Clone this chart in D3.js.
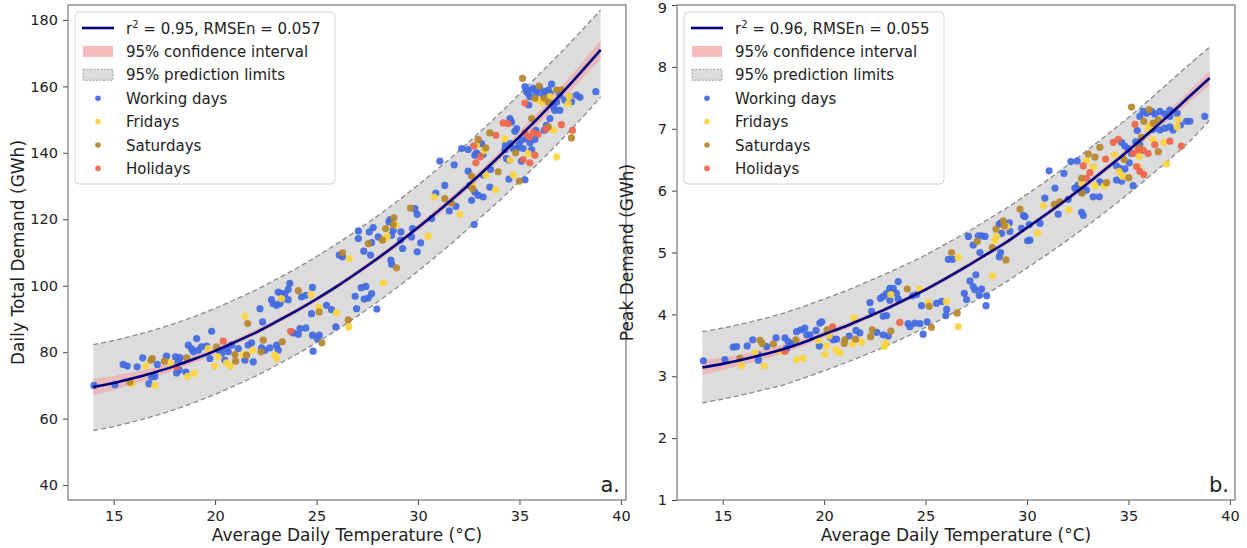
<!DOCTYPE html>
<html>
<head>
<meta charset="utf-8">
<script src="https://cdn.jsdelivr.net/npm/d3@7"></script>
<style>
  body { margin: 0; background: #fff; }
  svg text { font-family: "DejaVu Sans", sans-serif; fill: #222; }
</style>
</head>
<body>
<svg id="chart" width="1247" height="548"></svg>
<script>
// temperatures where the fitted curve and bands were read
var temps = [14,15,16,17,18,19,20,21,22,23,24,25,26,27,28,29,30,31,32,33,34,35,36,37,38,39];

// panel a: daily total demand
var totalFit = [69.5,70.7,72.2,73.9,75.8,78.0,80.4,83.1,85.9,89.1,92.4,96.0,99.8,103.9,108.2,112.7,117.5,122.5,127.7,133.2,138.9,144.9,151.0,157.4,164.1,171.0];
var totalPredUp = [82.3,83.5,85.0,86.7,88.6,90.8,93.2,95.9,98.7,101.9,105.2,108.8,112.6,116.7,121.0,125.5,130.3,135.3,140.5,146.0,151.7,157.7,163.8,170.0,176.4,183.0];
var totalPredLo = [56.4,57.6,59.1,60.8,62.7,64.9,67.3,70.0,72.8,76.0,79.3,82.9,86.7,90.8,95.1,99.6,104.4,109.4,114.6,120.1,125.6,131.4,137.3,143.5,150.0,156.8];
var totalCiUp = [72.0,72.8,74.0,75.4,77.1,79.1,81.4,84.0,86.8,89.9,93.2,96.8,100.6,104.7,109.1,113.7,118.5,123.6,128.9,134.5,140.3,146.5,152.8,159.5,166.5,173.8];
var totalCiLo = [67.0,68.6,70.4,72.4,74.5,76.9,79.4,82.2,85.0,88.3,91.6,95.2,99.0,103.1,107.3,111.7,116.5,121.4,126.5,131.9,137.5,143.3,149.2,155.3,161.7,168.2];

var totalWork = [[14.03,70.0],[15.06,70.2],[15.47,76.3],[15.67,75.8],[16.16,75.6],[16.43,78.3],[17.15,76.3],[16.87,72.5],[17.03,72.7],[16.74,70.5],[17.6,78.8],[18.05,78.6],[18.18,77.1],[18.27,78.4],[18.1,73.7],[18.23,74.6],[18.56,74.0],[18.68,82.1],[18.84,81.1],[19.09,84.1],[18.92,80.1],[19.17,80.6],[19.33,81.6],[19.58,81.8],[19.83,86.3],[19.74,78.1],[20.2,80.6],[20.32,79.6],[20.56,81.1],[20.65,80.1],[20.81,82.1],[20.48,77.6],[21.14,81.1],[21.47,77.6],[21.63,82.1],[21.8,82.8],[21.88,77.1],[22.29,81.3],[22.45,80.6],[22.7,81.3],[23.03,82.1],[23.11,80.6],[22.21,93.1],[22.34,89.1],[22.78,95.8],[22.86,94.6],[23.03,94.1],[23.19,94.6],[23.27,95.6],[23.11,98.1],[23.27,97.6],[23.44,97.6],[23.6,95.8],[23.68,100.7],[23.6,98.9],[24.26,96.6],[24.47,97.1],[24.8,99.5],[23.85,85.8],[24.1,85.4],[24.18,87.1],[24.47,87.3],[24.8,85.1],[25.03,84.1],[25.13,85.1],[24.83,80.3],[24.75,91.6],[25.49,94.1],[25.74,92.8],[25.95,87.6],[26.9,96.8],[27.2,99.4],[27.43,99.8],[27.35,96.0],[27.55,96.3],[27.71,97.6],[27.97,93.0],[26.97,93.1],[28.66,107.7],[28.7,106.5],[29.24,111.2],[29.96,110.2],[30.13,112.9],[30.67,120.2],[29.96,121.5],[29.85,123.2],[29.73,117.2],[29.68,114.7],[29.16,116.2],[29.14,113.7],[28.78,116.7],[28.7,115.2],[28.57,119.2],[28.62,119.9],[28.04,114.7],[27.79,117.5],[27.6,116.2],[27.71,113.0],[27.33,110.4],[27.66,109.2],[27.06,116.5],[27.06,114.2],[26.12,109.2],[26.28,108.7],[30.88,127.9],[31.32,130.2],[31.87,123.9],[31.54,122.5],[31.08,137.5],[31.78,136.4],[32.15,141.3],[32.47,141.0],[32.47,134.5],[32.56,130.2],[32.8,128.2],[32.97,127.2],[33.21,126.7],[32.64,125.7],[32.77,118.4],[33.21,133.3],[33.57,135.0],[33.54,129.7],[32.8,139.3],[32.88,140.0],[33.13,142.8],[33.21,139.5],[34.31,142.3],[34.28,141.0],[34.53,142.8],[34.49,137.8],[34.69,141.3],[34.36,138.3],[34.86,141.3],[34.99,142.5],[35.1,143.8],[35.18,141.3],[35.51,143.0],[35.35,144.3],[34.77,146.5],[34.86,147.3],[34.61,149.3],[34.53,150.3],[35.1,137.5],[35.27,131.9],[34.48,132.1],[35.6,141.0],[35.76,144.0],[35.81,146.8],[36.33,148.3],[36.5,150.3],[36.22,146.8],[36.63,154.8],[36.83,155.3],[36.99,157.4],[37.24,155.9],[36.99,152.8],[37.48,156.9],[37.81,157.4],[37.98,156.7],[37.56,155.4],[38.76,158.4],[36.58,160.7],[35.27,159.9],[35.35,158.4],[35.51,158.9],[35.68,159.4],[35.84,158.9],[36.0,159.4],[36.25,158.4],[36.42,158.9],[35.51,156.9],[35.46,154.4],[35.43,157.9],[35.84,157.9],[36.17,157.4],[36.5,157.9],[36.74,152.8],[36.69,153.8]];
var totalFri = [[15.89,70.5],[16.58,75.8],[17.03,70.0],[17.77,76.8],[18.64,72.7],[18.97,73.6],[19.66,81.1],[19.99,75.8],[20.15,78.6],[20.56,76.8],[20.76,75.8],[21.39,79.3],[21.85,80.6],[22.95,79.1],[23.03,78.1],[21.47,90.8],[23.27,96.1],[24.72,97.3],[25.11,93.6],[25.98,91.9],[26.58,87.6],[26.61,108.2],[28.29,100.8],[28.91,118.2],[28.48,114.9],[28.37,114.2],[30.5,114.9],[30.8,126.7],[32.06,121.5],[32.67,130.2],[33.34,133.3],[33.82,128.9],[32.88,142.3],[33.25,140.6],[34.28,144.2],[34.54,137.8],[34.69,133.3],[35.43,139.8],[36.69,146.8],[36.83,138.8],[37.4,154.8],[37.45,156.9],[35.92,155.9],[36.08,155.3],[36.5,156.9]];
var totalSat = [[15.8,71.0],[16.84,77.6],[16.9,78.1],[17.5,77.3],[18.6,78.3],[20.07,81.6],[20.98,79.3],[21.01,77.3],[21.55,79.1],[22.26,80.1],[22.37,83.6],[23.31,83.1],[21.6,88.6],[24.1,98.5],[25.13,92.1],[25.26,82.8],[26.56,89.7],[26.28,109.9],[28.94,105.4],[29.63,123.4],[28.81,120.4],[28.78,118.4],[28.4,117.2],[28.25,113.7],[27.55,112.7],[31.32,126.2],[31.65,124.9],[32.64,133.0],[32.69,129.2],[33.95,134.3],[32.97,144.0],[33.34,141.5],[33.54,146.0],[34.81,140.0],[34.99,131.5],[35.6,150.3],[36.42,147.8],[37.56,144.5],[37.07,158.9],[36.83,158.9],[35.15,162.4],[35.97,160.1],[35.76,156.4],[36.22,156.4],[36.42,155.3]];
var totalHol = [[18.1,75.6],[20.4,83.3],[23.72,86.3],[32.85,137.0],[33.08,138.8],[32.75,142.1],[33.84,145.3],[34.2,149.0],[34.44,148.8],[35.27,146.0],[35.48,144.8],[35.68,146.0],[35.92,145.6],[35.18,138.0],[35.51,137.0],[35.76,139.3],[36.3,147.1],[37.07,148.5],[37.61,146.8],[35.27,155.0]];

// panel b: peak demand
var peakFit = [3.14,3.20,3.27,3.35,3.44,3.55,3.68,3.80,3.94,4.08,4.24,4.40,4.58,4.77,4.97,5.17,5.40,5.63,5.87,6.12,6.38,6.65,6.93,7.22,7.52,7.82];
var peakPredUp = [3.72,3.78,3.85,3.93,4.02,4.13,4.25,4.37,4.51,4.65,4.80,4.96,5.14,5.32,5.52,5.72,5.94,6.17,6.41,6.66,6.92,7.18,7.46,7.75,8.04,8.32];
var peakPredLo = [2.57,2.63,2.70,2.78,2.86,2.97,3.09,3.21,3.34,3.48,3.63,3.79,3.96,4.14,4.33,4.53,4.75,4.97,5.20,5.44,5.69,5.95,6.22,6.50,6.79,7.14];
var peakCiUp = [3.26,3.30,3.36,3.43,3.51,3.61,3.73,3.85,3.98,4.12,4.28,4.44,4.62,4.81,5.01,5.21,5.44,5.67,5.92,6.17,6.44,6.71,7.00,7.30,7.61,7.94];
var peakCiLo = [3.02,3.10,3.18,3.27,3.37,3.49,3.63,3.75,3.90,4.04,4.20,4.36,4.54,4.73,4.93,5.13,5.36,5.59,5.82,6.07,6.32,6.59,6.86,7.14,7.43,7.70];

var peakWork = [[14.05,3.25],[15.11,3.27],[15.52,3.47],[15.69,3.48],[16.21,3.49],[16.48,3.59],[16.76,3.26],[16.76,3.35],[17.17,3.48],[17.63,3.62],[18.07,3.62],[18.23,3.56],[18.15,3.45],[18.4,3.53],[18.64,3.72],[18.86,3.75],[19.05,3.78],[19.14,3.67],[19.3,3.67],[19.6,3.74],[19.79,3.86],[19.88,3.88],[19.76,3.49],[20.29,3.63],[20.45,3.59],[20.61,3.6],[21.24,3.65],[21.57,3.74],[21.76,3.7],[22.34,4.05],[22.26,4.19],[22.59,3.71],[22.91,3.67],[23.16,3.65],[22.78,4.26],[22.91,4.29],[23.08,4.34],[23.24,4.42],[23.41,4.42],[23.57,4.34],[23.24,4.23],[23.65,4.25],[22.91,3.97],[23.08,3.98],[23.65,4.53],[24.36,4.3],[24.56,4.32],[24.14,3.85],[24.23,3.8],[24.47,3.86],[24.72,3.85],[25.08,3.88],[24.88,3.68],[24.8,4.14],[25.54,4.18],[25.79,4.21],[26.0,3.98],[26.04,4.08],[26.91,4.34],[27.02,4.24],[27.19,4.54],[27.35,4.45],[27.43,4.4],[27.65,4.31],[27.76,4.41],[28.01,4.3],[27.98,4.14],[27.48,4.64],[28.63,4.93],[28.7,5.0],[26.12,4.89],[26.33,4.89],[27.11,5.26],[27.35,5.12],[27.6,5.27],[27.76,5.27],[27.93,5.26],[27.68,5.0],[28.63,5.46],[28.71,5.48],[28.75,5.31],[29.13,5.48],[29.16,5.34],[29.73,5.39],[29.9,5.58],[29.82,5.6],[30.03,5.19],[30.14,5.2],[30.64,5.47],[30.11,5.45],[30.88,5.88],[31.38,6.04],[31.54,5.62],[32.03,5.86],[31.09,6.32],[31.82,6.28],[32.16,6.47],[32.47,6.48],[32.36,6.04],[32.52,6.09],[32.69,5.97],[32.77,6.04],[32.69,5.65],[32.77,5.6],[32.93,6.01],[33.26,5.9],[33.56,5.9],[33.59,6.14],[34.41,6.4],[34.58,6.36],[34.82,6.35],[34.41,6.17],[34.66,6.15],[34.66,6.78],[34.82,6.72],[34.99,6.68],[35.15,6.6],[35.23,6.08],[35.04,6.45],[35.36,6.79],[35.56,6.74],[35.43,6.97],[35.56,7.2],[35.73,7.28],[35.89,7.25],[36.14,7.28],[36.3,7.24],[36.55,7.28],[36.79,7.24],[37.04,7.3],[36.22,6.99],[36.55,6.98],[36.79,7.01],[37.04,7.03],[37.2,6.98],[37.56,7.06],[37.86,7.12],[38.03,7.12],[38.76,7.2],[37.04,7.2],[37.4,7.25]];
var peakFri = [[15.93,3.17],[16.62,3.38],[17.04,3.17],[17.82,3.4],[18.64,3.27],[18.97,3.29],[19.71,3.58],[20.04,3.35],[20.12,3.49],[20.58,3.43],[20.78,3.38],[20.25,3.65],[21.4,3.52],[21.47,3.94],[21.85,3.55],[22.96,3.48],[23.03,3.53],[23.29,4.32],[24.72,4.41],[25.13,4.19],[26.03,4.21],[26.61,3.8],[26.61,4.92],[28.3,4.62],[28.42,5.2],[28.5,5.26],[29.0,5.42],[30.52,5.31],[30.8,5.76],[32.06,5.69],[32.69,6.12],[32.93,6.48],[33.26,6.38],[33.35,6.08],[33.81,6.08],[34.3,6.58],[34.53,6.31],[34.71,6.23],[35.53,6.55],[35.48,6.39],[35.97,7.01],[36.09,7.05],[37.45,7.14],[37.4,7.03],[36.22,6.82],[36.74,6.78],[36.88,6.43]];
var peakSat = [[15.85,3.29],[16.84,3.58],[16.95,3.53],[17.5,3.52],[18.61,3.59],[20.15,3.75],[21.02,3.59],[20.99,3.53],[21.55,3.6],[22.37,3.75],[22.29,3.64],[23.29,3.73],[24.1,4.41],[25.29,3.79],[25.18,4.13],[26.56,4.02],[26.28,5.0],[28.96,4.88],[27.55,5.18],[28.29,5.08],[28.47,5.38],[28.83,5.51],[28.88,5.43],[29.65,5.7],[31.34,5.78],[31.62,5.82],[32.69,6.2],[32.72,5.96],[33.02,6.59],[33.35,6.54],[33.59,6.7],[33.92,6.13],[34.79,6.5],[35.02,6.21],[35.53,6.69],[35.64,6.86],[35.15,7.35],[35.76,7.12],[36.02,7.31],[36.22,7.09],[36.47,7.14],[36.47,6.63]];
var peakHol = [[18.07,3.4],[20.42,3.8],[23.73,3.87],[32.77,6.4],[33.1,6.29],[32.93,6.2],[33.87,6.51],[34.25,6.78],[34.5,6.83],[35.23,6.6],[35.48,6.66],[35.73,6.65],[35.97,6.6],[35.4,6.39],[35.56,6.31],[35.76,6.26],[35.32,7.07],[36.3,6.74],[37.04,6.8],[37.61,6.72]];

var xTicks = [15, 20, 25, 30, 35, 40];
var totalTicks = [40, 60, 80, 100, 120, 140, 160, 180];
var peakTicks = [1, 2, 3, 4, 5, 6, 7, 8, 9];

var seriesNames = ['Working days', 'Fridays', 'Saturdays', 'Holidays'];
var seriesColors = ['#4169e1', '#fcd43c', '#b5862a', '#ee6549'];

var svg = d3.select('#chart');

function drawPanel(p) {
  var x = d3.scaleLinear().domain([12.75, 40.25]).range([p.left, p.right]);
  var y = d3.scaleLinear().domain(p.yDomain).range([p.bottom, p.top]);
  var g = svg.append('g');

  g.append('clipPath').attr('id', 'clip' + p.id)
    .append('rect')
    .attr('x', p.left).attr('y', p.top)
    .attr('width', p.right - p.left).attr('height', p.bottom - p.top);

  var plot = g.append('g').attr('clip-path', 'url(#clip' + p.id + ')');

  var band = function (lo, hi) {
    return d3.area()
      .x(function (d, i) { return x(temps[i]); })
      .y0(function (d, i) { return y(lo[i]); })
      .y1(function (d, i) { return y(hi[i]); })
      .curve(d3.curveCatmullRom)(temps);
  };
  var line = function (vals) {
    return d3.line()
      .x(function (d, i) { return x(temps[i]); })
      .y(function (d, i) { return y(vals[i]); })
      .curve(d3.curveCatmullRom)(temps);
  };

  // prediction limits
  plot.append('path').attr('d', band(p.predLo, p.predUp)).attr('fill', '#dcdcdc');
  [p.predLo, p.predUp].forEach(function (v) {
    plot.append('path').attr('d', line(v))
      .attr('fill', 'none').attr('stroke', '#8a8a8a')
      .attr('stroke-width', 1.3).attr('stroke-dasharray', '5,3');
  });
  // confidence interval
  plot.append('path').attr('d', band(p.ciLo, p.ciUp))
    .attr('fill', '#f19c9c').attr('opacity', 0.55);

  p.series.forEach(function (pts, k) {
    plot.append('g').selectAll('circle')
      .data(pts).enter().append('circle')
      .attr('cx', function (d) { return x(d[0]); })
      .attr('cy', function (d) { return y(d[1]); })
      .attr('r', 3.6)
      .attr('fill', seriesColors[k])
      .attr('opacity', 0.92);
  });

  plot.append('path').attr('d', line(p.fit))
    .attr('fill', 'none').attr('stroke', '#000080').attr('stroke-width', 2.6);

  // axes
  var xa = g.append('g').attr('transform', 'translate(0,' + p.bottom + ')')
    .call(d3.axisBottom(x).tickValues(xTicks).tickSize(5).tickPadding(6));
  var ya = g.append('g').attr('transform', 'translate(' + p.left + ',0)')
    .call(d3.axisLeft(y).tickValues(p.yTicks).tickSize(5).tickPadding(5));
  [xa, ya].forEach(function (a) {
    a.select('.domain').remove();
    a.selectAll('line').attr('stroke', '#444');
    a.selectAll('text').style('font-family', '"DejaVu Sans", sans-serif')
      .style('font-size', '14.5px').attr('fill', '#222');
  });
  // keep the top label inside the page
  ya.selectAll('.tick').filter(function (d) { return y(d) < 9; })
    .select('text').attr('dy', '0.5em');

  g.append('rect')
    .attr('x', p.left).attr('y', p.top)
    .attr('width', p.right - p.left).attr('height', p.bottom - p.top)
    .attr('fill', 'none').attr('stroke', '#808080').attr('stroke-width', 1.3);

  g.append('text')
    .attr('x', (p.left + p.right) / 2).attr('y', 541)
    .attr('text-anchor', 'middle').style('font-size', '17px')
    .text('Average Daily Temperature (°C)');

  g.append('text')
    .attr('transform', 'translate(' + (p.left - 44) + ',' + ((p.top + p.bottom) / 2) + ') rotate(-90)')
    .attr('text-anchor', 'middle').style('font-size', '17px')
    .text(p.yLabel);

  g.append('text')
    .attr('x', p.right - 6).attr('y', 492)
    .attr('text-anchor', 'end').style('font-size', '21px')
    .text(p.tag);

  // legend
  var lg = g.append('g').attr('transform', 'translate(' + (p.left + 7) + ',12)');
  lg.append('rect').attr('width', 260).attr('height', 172).attr('rx', 4)
    .attr('fill', '#fff').attr('fill-opacity', 0.85)
    .attr('stroke', '#d4d4d4');
  var rowY = function (i) { return 16 + i * 23.4; };
  lg.append('line').attr('x1', 7).attr('x2', 39).attr('y1', rowY(0)).attr('y2', rowY(0))
    .attr('stroke', '#000080').attr('stroke-width', 2.6);
  lg.append('rect').attr('x', 8).attr('y', rowY(1) - 5.5).attr('width', 30).attr('height', 11)
    .attr('fill', '#f19c9c').attr('opacity', 0.7);
  lg.append('rect').attr('x', 8).attr('y', rowY(2) - 5.5).attr('width', 30).attr('height', 11)
    .attr('fill', '#dcdcdc').attr('stroke', '#8a8a8a').attr('stroke-width', 0.8)
    .attr('stroke-dasharray', '2,1.5');
  seriesNames.forEach(function (n, k) {
    lg.append('circle').attr('cx', 23).attr('cy', rowY(3 + k)).attr('r', 2.8)
      .attr('fill', seriesColors[k]).attr('opacity', 0.92);
  });
  var t0 = lg.append('text').attr('x', 51).attr('y', rowY(0) + 5.5).style('font-size', '15px');
  t0.append('tspan').text('r');
  t0.append('tspan').attr('dy', -6).style('font-size', '10px').text('2');
  t0.append('tspan').attr('dy', 6).text(' = ' + p.r2 + ', RMSEn = ' + p.rmse);
  var labels = ['95% confidence interval', '95% prediction limits'].concat(seriesNames);
  labels.forEach(function (s, i) {
    lg.append('text').attr('x', 51).attr('y', rowY(i + 1) + 5.5)
      .style('font-size', '15px').text(s);
  });
}

drawPanel({
  id: 'a', left: 68, right: 626, top: 5, bottom: 500,
  yDomain: [35.5, 184.5], yTicks: totalTicks,
  yLabel: 'Daily Total Demand (GWh)', tag: 'a.',
  fit: totalFit, predUp: totalPredUp, predLo: totalPredLo, ciUp: totalCiUp, ciLo: totalCiLo,
  series: [totalWork, totalFri, totalSat, totalHol],
  r2: '0.95', rmse: '0.057'
});

drawPanel({
  id: 'b', left: 677, right: 1235, top: 5, bottom: 500,
  yDomain: [1, 9], yTicks: peakTicks,
  yLabel: 'Peak Demand (GWh)', tag: 'b.',
  fit: peakFit, predUp: peakPredUp, predLo: peakPredLo, ciUp: peakCiUp, ciLo: peakCiLo,
  series: [peakWork, peakFri, peakSat, peakHol],
  r2: '0.96', rmse: '0.055'
});
</script>
</body>
</html>
